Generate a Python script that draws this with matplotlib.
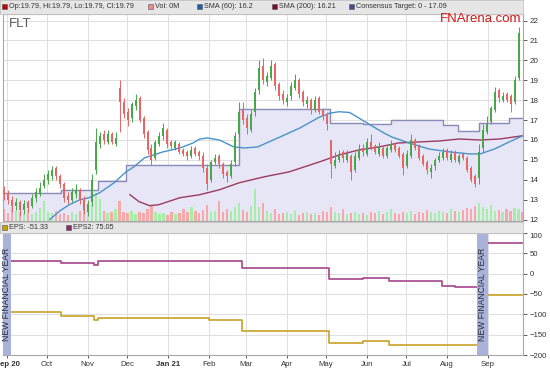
import numpy as np
import pandas as pd
import matplotlib
matplotlib.use('Agg')
import matplotlib.pyplot as plt
from matplotlib.patches import Rectangle
from matplotlib.transforms import blended_transform_factory

plt.rcParams['font.family'] = ['Liberation Sans', 'DejaVu Sans']

# price bars, one bar for about every 2 trading days
opens = [13.5, 13.3, 13.0, 12.7, 12.9, 12.5, 12.9, 12.7, 13.1, 13.3,
         13.7, 14.0, 14.2, 14.6, 14.2, 13.8, 13.2, 13.0, 13.3, 13.5,
         13.0, 12.4, 12.9, 14.5, 15.8, 16.3, 15.9, 16.3, 15.8, 18.6,
         17.9, 17.4, 17.1, 17.7, 18.1, 17.1, 16.4, 15.6, 15.1, 15.8,
         16.2, 16.5, 15.9, 15.6, 15.8, 15.5, 15.4, 15.2, 15.6, 15.4,
         15.2, 14.6, 14.0, 14.9, 15.2, 14.8, 14.4, 14.2, 14.9, 16.3,
         17.5, 17.1, 16.5, 17.4, 18.5, 19.7, 18.9, 19.1, 19.8, 18.8,
         18.3, 17.9, 18.2, 18.6, 19.0, 18.4, 17.8, 18.0, 17.5, 18.1,
         17.5, 17.3, 16.0, 14.7, 15.0, 15.4, 15.0, 15.2, 14.5, 15.1,
         15.6, 15.3, 15.9, 15.7, 15.3, 15.6, 15.2, 15.5, 15.8, 15.6,
         15.3, 14.7, 15.2, 16.0, 15.7, 15.2, 14.9, 14.4, 14.7, 15.0,
         15.1, 15.5, 15.0, 15.4, 14.9, 15.3, 15.1, 14.6, 14.2, 14.1,
         15.6, 16.4, 16.9, 17.5, 18.5, 18.0, 18.3, 18.2, 17.9, 19.1,
         19.79]
closes = [13.3, 13.0, 12.7, 12.9, 12.5, 12.8, 12.6, 13.1, 13.4, 13.6,
          14.0, 14.3, 14.5, 14.2, 13.8, 13.1, 13.0, 13.4, 13.5, 13.0,
          12.5, 12.8, 14.0, 15.9, 16.2, 16.0, 16.3, 15.9, 16.1, 17.9,
          17.3, 17.0, 17.8, 18.0, 17.0, 16.3, 15.5, 15.0, 15.9, 16.2,
          16.6, 15.8, 15.7, 15.9, 15.4, 15.3, 15.2, 15.5, 15.3, 15.2,
          14.6, 13.8, 14.9, 15.1, 14.8, 14.3, 14.2, 14.8, 16.2, 17.4,
          17.0, 16.6, 17.3, 18.4, 19.6, 19.0, 19.2, 19.7, 18.7, 18.2,
          18.0, 18.1, 18.7, 19.0, 18.3, 17.9, 18.0, 17.5, 18.0, 17.4,
          17.2, 16.8, 14.8, 15.0, 15.3, 15.1, 15.3, 14.4, 15.2, 15.5,
          15.4, 15.9, 15.6, 15.4, 15.7, 15.2, 15.6, 15.8, 15.5, 15.2,
          14.6, 15.3, 16.0, 15.6, 15.1, 14.8, 14.5, 14.6, 15.0, 15.2,
          15.4, 15.1, 15.3, 15.0, 15.2, 15.1, 14.5, 14.0, 13.8, 15.4,
          16.5, 16.8, 17.6, 18.4, 18.1, 18.2, 18.0, 17.8, 19.0, 21.4,
          19.79]
highs = [13.7, 13.5, 13.2, 13.1, 13.0, 13.0, 13.0, 13.3, 13.6, 13.9,
         14.3, 14.5, 14.7, 14.7, 14.3, 13.9, 13.4, 13.6, 13.8, 13.6,
         13.2, 13.0, 14.3, 16.6, 16.4, 16.5, 16.5, 16.4, 16.4, 19.0,
         18.1, 17.6, 17.9, 18.3, 18.2, 17.2, 16.5, 15.8, 16.0, 16.4,
         16.85, 16.6, 16.0, 16.0, 15.9, 15.6, 15.5, 15.7, 15.7, 15.5,
         15.4, 14.8, 15.0, 15.3, 15.3, 14.9, 14.5, 15.0, 16.4, 17.9,
         17.9, 17.3, 17.5, 18.6, 20.0, 20.1, 19.4, 20.0, 19.9, 18.9,
         18.5, 18.3, 18.9, 19.3, 19.1, 18.5, 18.2, 18.1, 18.2, 18.2,
         17.6, 17.4, 16.0, 15.4, 15.5, 15.5, 15.5, 15.3, 15.4, 15.8,
         15.8, 16.1, 16.3, 15.8, 15.9, 15.7, 15.7, 16.0, 15.9, 15.7,
         15.4, 15.5, 16.3, 16.1, 15.8, 15.3, 15.0, 14.8, 15.1, 15.4,
         15.6, 15.6, 15.5, 15.5, 15.3, 15.4, 15.2, 14.7, 14.3, 15.8,
         16.8, 17.2, 17.7, 18.65, 18.6, 18.4, 18.4, 18.3, 19.2, 21.7,
         19.79]
lows = [13.0, 12.8, 12.4, 12.5, 12.2, 12.3, 12.4, 12.6, 12.9, 13.2,
        13.6, 13.8, 14.0, 14.0, 13.6, 12.9, 12.8, 12.9, 13.1, 12.8,
        12.3, 12.2, 12.7, 14.3, 15.6, 15.8, 15.8, 15.8, 15.7, 16.4,
        17.1, 16.7, 16.9, 17.5, 16.9, 16.1, 15.3, 14.75, 15.0, 15.7,
        16.0, 15.6, 15.5, 15.5, 15.3, 15.2, 15.0, 15.1, 15.2, 15.0,
        14.4, 13.5, 13.9, 14.8, 14.6, 14.1, 13.9, 14.1, 14.7, 16.1,
        16.8, 16.3, 16.4, 17.2, 18.3, 18.8, 18.7, 19.0, 18.5, 18.0,
        17.8, 17.7, 18.0, 18.5, 18.1, 17.7, 17.6, 17.3, 17.4, 17.3,
        17.0, 16.5, 14.1, 14.6, 14.9, 14.9, 14.9, 14.0, 14.4, 15.0,
        15.2, 15.2, 15.5, 15.3, 15.2, 15.1, 15.1, 15.4, 15.4, 15.1,
        14.25, 14.6, 15.1, 15.5, 15.0, 14.7, 14.3, 14.1, 14.5, 14.9,
        15.0, 15.0, 14.9, 14.9, 14.8, 15.0, 14.4, 13.9, 13.65, 13.8,
        15.4, 16.3, 16.8, 17.4, 17.9, 17.9, 17.9, 17.4, 17.8, 19.0,
        19.79]
# volume, relative units (share of panel height is set below)
volumes = [12, 8, 14, 10, 9, 8, 11, 7, 9, 13,
           20, 9, 8, 10, 7, 8, 6, 9, 7, 10,
           15, 9, 18, 28, 22, 10, 8, 9, 12, 20,
           9, 8, 10, 7, 9, 8, 12, 15, 9, 7,
           8, 6, 9, 7, 8, 12, 9, 14, 10, 8,
           11, 16, 9, 10, 20, 9, 12, 10, 14, 18,
           11, 9, 15, 32, 14, 18, 10, 8, 12, 7,
           8, 9, 7, 10, 6, 8, 9, 7, 8, 6,
           10, 9, 14, 9, 8, 12, 7, 8, 9, 7,
           8, 6, 9, 8, 10, 7, 9, 12, 8, 7,
           9, 8, 10, 7, 9, 8, 11, 9, 8, 10,
           9, 8, 12, 10, 9, 11, 13, 12, 15, 18,
           14, 12, 16, 10, 11, 9, 12, 10, 13, 12,
           9]

sma60_dates = ['2020-10-03', '2020-10-11', '2020-10-18', '2020-10-26', '2020-11-02',
               '2020-11-10', '2020-11-21', '2020-11-30', '2020-12-06', '2020-12-14',
               '2020-12-28', '2021-01-10', '2021-01-20', '2021-01-25', '2021-01-31',
               '2021-02-09', '2021-02-20', '2021-02-28', '2021-03-10', '2021-03-15',
               '2021-03-27', '2021-04-11', '2021-04-26', '2021-05-04', '2021-05-11',
               '2021-05-19', '2021-05-26', '2021-06-05', '2021-06-14', '2021-06-20',
               '2021-07-03', '2021-07-18', '2021-08-03', '2021-08-18', '2021-08-26',
               '2021-09-06', '2021-09-17', '2021-09-27']
sma60 = [12.0, 12.45, 12.75, 13.0, 13.1, 13.35, 13.85, 14.4, 14.65, 15.1,
         15.4, 15.6, 15.85, 16.05, 16.1, 16.0, 15.65, 15.6, 15.65, 15.8,
         16.15, 16.6, 17.15, 17.35, 17.42, 17.38, 17.1, 16.7, 16.35, 16.15,
         15.85, 15.55, 15.4, 15.3, 15.3, 15.55, 15.9, 16.2]

sma200_dates = ['2020-12-03', '2020-12-10', '2020-12-18', '2020-12-25', '2021-01-10',
                '2021-01-25', '2021-02-09', '2021-02-24', '2021-03-15', '2021-04-03',
                '2021-04-26', '2021-05-11', '2021-05-26', '2021-06-10', '2021-06-25',
                '2021-07-10', '2021-07-26', '2021-08-10', '2021-08-26', '2021-09-10',
                '2021-09-27']
sma200 = [13.25, 12.9, 12.7, 12.75, 13.1, 13.25, 13.5, 13.85, 14.15, 14.4,
          14.9, 15.25, 15.5, 15.65, 15.85, 15.9, 15.95, 16.05, 16.0, 16.05,
          16.21]

target_dates = ['2020-08-28', '2020-10-12', '2020-11-09', '2020-11-30', '2021-02-24',
                '2021-05-04', '2021-05-29', '2021-06-19', '2021-07-29', '2021-08-09',
                '2021-08-25', '2021-09-17', '2021-09-28']
target = [13.35, 13.5, 13.95, 14.75, 17.55, 16.85, 16.8, 17.0, 16.75, 16.45,
          16.85, 17.09, 17.09]

eps_dates = ['2020-08-28', '2020-10-12', '2020-11-06', '2020-11-09', '2021-02-01',
             '2021-02-26', '2021-05-03', '2021-05-29', '2021-06-18', '2021-07-28',
             '2021-08-07', '2021-08-24']
eps = [-94, -105, -114, -110, -113, -142, -171, -165, -175, -175, -175, -175]
eps2 = [32, 25, 22, 32, 32, 14, -13, -11, -17, -31, -33.5, -33.5]
eps_new_dates = ['2021-09-01', '2021-09-27']
eps_new = [-51.33, -51.33]
eps2_new = [75.05, 75.05]

fy_bands = [('2020-08-28', '2020-09-04'), ('2021-08-24', '2021-09-01')]

month_ticks = pd.date_range('2020-09-01', '2021-09-01', freq='MS')
month_labels = ['Sep 20', 'Oct', 'Nov', 'Dec', 'Jan 21', 'Feb', 'Mar', 'Apr',
                'May', 'Jun', 'Jul', 'Aug', 'Sep']

# colours
up_c, dn_c = '#45a845', '#e86464'
vup_c, vdn_c = '#a6eea6', '#f7a8a8'
grid_c = '#dedede'
spine_c = '#a8a8a8'

W, H = 550, 368
fig = plt.figure(figsize=(W / 100, H / 100), dpi=100)


def box(x0, y0, x1, y1):
    return [x0 / W, 1 - y1 / H, (x1 - x0) / W, (y1 - y0) / H]


ax1 = fig.add_axes(box(2.5, 14, 523, 221))
ax2 = fig.add_axes(box(2.5, 233, 523, 355))
hdr1 = fig.add_axes(box(0, 0, 523, 13.5))
hdr2 = fig.add_axes(box(0, 221.5, 523, 233))

xmin = pd.Timestamp('2020-08-28 05:00')
xmax = pd.Timestamp('2021-09-27 14:00')

bar_dates = pd.date_range('2020-08-29 06:00', '2021-09-27 06:00', periods=len(closes))
o = np.array(opens)
c = np.array(closes)
hi = np.array(highs)
lo = np.array(lows)
up = c > o

# ---- top panel ----
ax1.set_xlim(xmin, xmax)
ax1.set_ylim(11.93, 22.33)
for m in month_ticks:
    ax1.axvline(m, color=grid_c, lw=0.7, zorder=0)
for p in range(12, 23):
    ax1.axhline(p, color=grid_c, lw=0.7, zorder=0)

td = pd.to_datetime(target_dates)
ax1.fill_between(td, target, 0, step='post', color='#e6e6f6', zorder=1)
ax1.plot(td, target, drawstyle='steps-post', color='#8c8cb8', lw=1.0, zorder=3)

trans = blended_transform_factory(ax1.transData, ax1.transAxes)
vol = np.array(volumes) / 207.0
ax1.bar(bar_dates[up], vol[up], width=1.7, color=vup_c, transform=trans, zorder=2)
ax1.bar(bar_dates[~up], vol[~up], width=1.7, color=vdn_c, transform=trans, zorder=2)

for mask, col in [(up, up_c), (~up, dn_c)]:
    ax1.vlines(bar_dates[mask], lo[mask], hi[mask], color=col, lw=0.7, zorder=5)
    ax1.vlines(bar_dates[mask], o[mask], c[mask], color=col, lw=1.4, zorder=5)

ax1.plot(pd.to_datetime(sma200_dates), sma200, color='#9c3b5e', lw=1.0, zorder=4)
ax1.plot(pd.to_datetime(sma60_dates), sma60, color='#4b92c9', lw=1.0, zorder=4)

ax1.yaxis.tick_right()
ax1.set_yticks(range(12, 23))
ax1.tick_params(axis='y', length=3, width=0.6, pad=1.5, labelsize=5.8,
                colors='#444444', labelcolor='#333333')
ax1.tick_params(axis='x', length=0, labelbottom=False)
for s in ax1.spines.values():
    s.set_color(spine_c)
    s.set_linewidth(0.8)

# ---- bottom panel ----
ax2.set_xlim(xmin, xmax)
ax2.set_ylim(-200, 100)
for m in month_ticks:
    ax2.axvline(m, color=grid_c, lw=0.7, zorder=0)
for v in range(-200, 101, 50):
    ax2.axhline(v, color=grid_c, lw=0.7, zorder=0)

ed = pd.to_datetime(eps_dates)
ax2.plot(ed, eps2, drawstyle='steps-post', color='#a5458a', lw=1.2, zorder=3)
ax2.plot(ed, eps, drawstyle='steps-post', color='#c9a227', lw=1.2, zorder=3)
nd = pd.to_datetime(eps_new_dates)
ax2.plot(nd, eps2_new, color='#a5458a', lw=1.2, zorder=3)
ax2.plot(nd, eps_new, color='#c9a227', lw=1.2, zorder=3)

for a, b in fy_bands:
    a, b = pd.Timestamp(a), pd.Timestamp(b)
    ax2.axvspan(a, b, color='#a9b3d9', zorder=5, lw=0)
    ax2.text(a + (b - a) / 2, -50, 'NEW FINANCIAL YEAR', rotation=90,
             ha='center', va='center', fontsize=6.2, color='#2a2a40', zorder=6)

ax2.yaxis.tick_right()
ax2.set_yticks(range(-200, 101, 50))
ax2.tick_params(axis='y', length=3, width=0.6, pad=1.5, labelsize=5.6,
                colors='#444444', labelcolor='#333333')
ax2.set_xticks(month_ticks)
ax2.set_xticklabels(month_labels)
ax2.tick_params(axis='x', length=2, width=0.6, pad=2.5, labelsize=5.6,
                colors='#444444', labelcolor='#333333')
for lbl in ax2.get_xticklabels():
    if lbl.get_text() in ('Sep 20', 'Jan 21'):
        lbl.set_fontweight('bold')
ax2.get_yticklabels()[-1].set_verticalalignment('top')
for s in ax2.spines.values():
    s.set_color(spine_c)
    s.set_linewidth(0.8)

# ---- legend strips ----
for hdr in (hdr1, hdr2):
    hdr.set_facecolor('#e6e6e6')
    hdr.set_xticks([])
    hdr.set_yticks([])
    for s in hdr.spines.values():
        s.set_color('#c4c4c4')
        s.set_linewidth(0.6)

top_items = [(2, '#c00000', 'Op:19.79, Hi:19.79, Lo:19.79, Cl:19.79'),
             (148, '#f08a8a', 'Vol: 0M'),
             (197, '#1f5fa8', 'SMA (60): 16.2'),
             (272, '#7a0a2a', 'SMA (200): 16.21'),
             (349, '#4a4a8c', 'Consensus Target: 0 - 17.09')]
bot_items = [(2, '#c8a000', 'EPS: -51.33'),
             (66, '#8b2a6b', 'EPS2: 75.05')]


def legend_item(x, ymid, col, text):
    fig.patches.append(Rectangle(((x) / W, 1 - (ymid + 2.5) / H), 5 / W, 5 / H,
                                 transform=fig.transFigure, facecolor=col,
                                 edgecolor='#555555', lw=0.4))
    fig.text((x + 7) / W, 1 - (ymid + 0.3) / H, text, fontsize=5.2,
             color='#333333', va='center')


for x, col, t in top_items:
    legend_item(x, 6.5, col, t)
for x, col, t in bot_items:
    legend_item(x, 227.5, col, t)

fig.text(9 / W, 1 - 26.7 / H, 'FLT', fontsize=9.5, color='#5a5a5a', va='baseline')
fig.text(440 / W, 1 - 21.5 / H, 'FNArena.com', fontsize=9.5, color='#d01818',
         va='baseline')

fig.savefig('out.png', dpi=100)
